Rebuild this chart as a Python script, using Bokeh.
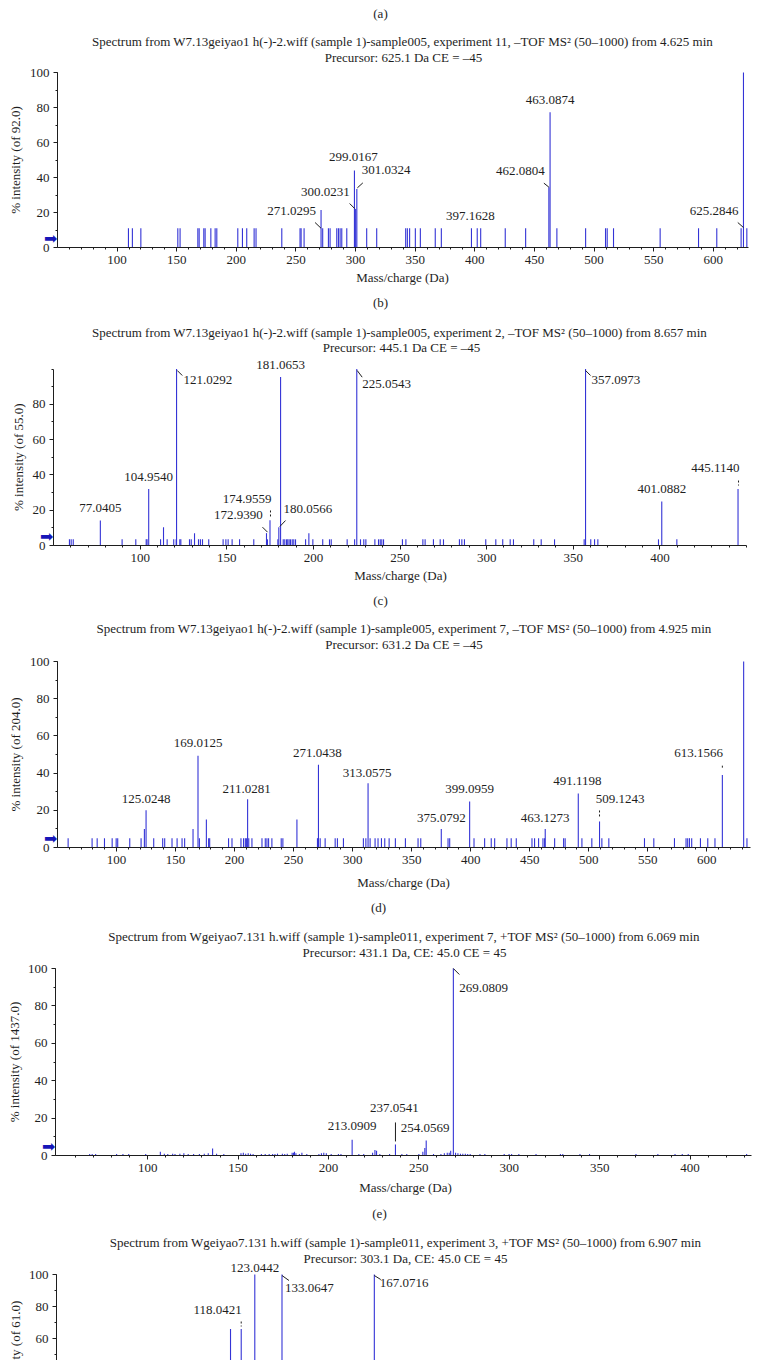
import math
from bokeh.plotting import figure
from bokeh.layouts import column
from bokeh.models import Label, FixedTicker, Range1d, ColumnDataSource
from bokeh.embed import file_html
from bokeh.resources import INLINE

SERIF = "Liberation Serif"
BAR = "#3434d6"
INK = "#1e1e1e"
ARROW = "#1616b8"
W = 758          # canvas width; the page template has no body margin, so page x = canvas x

# ------------------------------------------------------------------ (b)
b_title = "Spectrum from W7.13geiyao1 h(-)-2.wiff (sample 1)-sample005, experiment 11, \u2013TOF MS\u00b2 (50\u20131000) from 4.625 min"
b_prec = "Precursor: 625.1 Da CE = \u201345"
b_ylabel = "% intensity (of 92.0)"
b_mz = [109.5, 112.8, 119.9, 150.9, 152.8, 167.7, 168.8, 172.7, 173.8, 178.6,
        182.2, 183.6, 201.2, 205.1, 208.7, 214.9, 216.5, 238.1, 253.4, 254.3,
        256.8, 271.03, 272.4, 277.2, 278.6, 284.2, 285.6, 287.0, 288.4, 292.6,
        299.02, 300.02, 301.03, 309.3, 317.7, 342.0, 343.4, 345.3, 350.1, 354.3,
        366.8, 371.9, 397.16, 402.0, 404.9, 425.5, 442.6, 462.08, 463.09, 468.8,
        492.9, 509.6, 511.0, 516.3, 555.4, 587.6, 602.9, 623.3, 625.28, 628.1]
b_int = [11, 11, 11, 11, 11, 11, 11, 11, 11, 11,
         11, 11, 11, 11, 11, 11, 11, 11, 11, 11,
         11, 21.5, 11, 11, 11, 11, 11, 11, 11, 11,
         44, 22, 33.5, 11, 11, 11, 11, 11, 11, 11,
         11, 11, 11, 11, 11, 11, 11, 34.5, 77.3, 11,
         11, 11, 11, 11, 11, 11, 11, 11, 100, 11]
b_lab_text = ["299.0167", "301.0324", "300.0231", "271.0295", "397.1628", "462.0804", "463.0874", "625.2846"]
b_lab_mz = [299.02, 301.03, 300.02, 271.03, 397.16, 462.08, 463.09, 625.28]
b_lab_int = [44, 33.5, 22, 11, 11, 34.5, 77.3, 11]
b_xticks = [100, 150, 200, 250, 300, 350, 400, 450, 500, 550, 600]
b_yticks = [0, 20, 40, 60, 80, 100]

# ------------------------------------------------------------------ (c)
c_title = "Spectrum from W7.13geiyao1 h(-)-2.wiff (sample 1)-sample005, experiment 2, \u2013TOF MS\u00b2 (50\u20131000) from 8.657 min"
c_prec = "Precursor: 445.1 Da CE = \u201345"
c_ylabel = "% intensity (of 55.0)"
c_mz = [59.2, 60.2, 61.4, 77.04, 89.6, 97.5, 103.5, 104.0, 104.95, 111.8,
        113.5, 115.6, 119.4, 120.8, 121.03, 122.9, 123.5, 128.5, 129.5, 131.4,
        133.7, 134.8, 136.0, 139.6, 147.9, 149.5, 150.8, 153.1, 157.4, 165.6,
        172.94, 173.5, 174.96, 179.5, 180.06, 181.07, 182.6, 183.5, 184.5, 185.2,
        186.0, 186.8, 187.8, 188.7, 189.7, 195.5, 197.4, 199.7, 205.4, 209.3,
        210.3, 219.5, 223.8, 225.05, 227.2, 229.1, 230.3, 235.5, 237.6, 238.6,
        239.5, 240.5, 251.4, 253.4, 263.2, 264.5, 269.3, 273.2, 275.1, 284.3,
        285.7, 287.2, 299.5, 305.3, 309.3, 313.6, 315.5, 327.2, 331.5, 339.2,
        356.3, 357.1, 360.1, 362.3, 364.2, 399.2, 401.09, 409.8, 445.11]
c_int = [3.5, 3.5, 3.5, 14.2, 3.5, 3.5, 3.5, 3.5, 32, 3.5,
         10.4, 3.5, 3.5, 3.5, 100, 3.5, 3.5, 3.5, 3.5, 7,
         3.5, 3.5, 3.5, 3.5, 3.5, 3.5, 3.5, 3.5, 3.5, 3.5,
         7, 3.5, 14.3, 3.5, 10.4, 95.5, 3.5, 3.5, 3.5, 3.5,
         3.5, 3.5, 3.5, 3.5, 3.5, 3.5, 7, 3.5, 3.5, 3.5,
         3.5, 3.5, 3.5, 100, 3.5, 3.5, 3.5, 3.5, 3.5, 3.5,
         3.5, 3.5, 3.5, 3.5, 3.5, 3.5, 3.5, 3.5, 3.5, 3.5,
         3.5, 3.5, 3.5, 3.5, 3.5, 3.5, 3.5, 3.5, 3.5, 3.5,
         3.5, 100, 3.5, 3.5, 3.5, 3.5, 25, 3.5, 32]
c_lab_text = ["77.0405", "104.9540", "121.0292", "181.0653", "225.0543", "357.0973",
              "174.9559", "172.9390", "180.0566", "401.0882", "445.1140"]
c_lab_mz = [77.04, 104.95, 121.03, 181.07, 225.05, 357.1, 174.96, 172.94, 180.06, 401.09, 445.11]
c_lab_int = [14.2, 32, 100, 95.5, 100, 100, 14.3, 7, 10.4, 25, 32]
c_xticks = [100, 150, 200, 250, 300, 350, 400]
c_yticks = [0, 20, 40, 60, 80]

# ------------------------------------------------------------------ (d)
d_title = "Spectrum from W7.13geiyao1 h(-)-2.wiff (sample 1)-sample005, experiment 7, \u2013TOF MS\u00b2 (50\u20131000) from 4.925 min"
d_prec = "Precursor: 631.2 Da CE = \u201345"
d_ylabel = "% intensity (of 204.0)"
d_mz = [59.0, 79.3, 83.6, 89.8, 96.3, 99.7, 101.0, 111.2, 120.8, 123.6,
        125.02, 131.5, 139.1, 140.8, 147.0, 151.3, 155.5, 157.7, 164.8, 169.01,
        170.2, 176.1, 178.0, 178.9, 194.9, 197.8, 205.4, 207.6, 209.1, 210.0,
        211.03, 212.0, 214.7, 223.2, 226.0, 227.4, 228.8, 231.6, 239.5, 240.9,
        252.8, 270.2, 271.04, 272.5, 276.7, 285.2, 287.1, 292.2, 309.1, 311.2,
        313.06, 314.8, 319.0, 321.5, 324.4, 327.2, 330.9, 336.2, 344.7, 355.4,
        357.7, 375.08, 380.8, 382.2, 399.1, 402.8, 411.8, 417.4, 420.3, 430.7,
        434.3, 438.6, 451.9, 454.1, 457.5, 461.2, 462.6, 463.13, 471.1, 478.7,
        480.0, 491.12, 494.2, 502.6, 509.12, 511.1, 517.0, 547.2, 555.1, 572.6,
        582.4, 583.8, 585.3, 587.2, 594.6, 600.8, 606.9, 613.16, 631.2, 634.0]
d_int = [5, 5, 5, 5, 5, 5, 5, 5, 5, 10,
         20, 5, 5, 5, 5, 5, 5, 5, 10, 49.3,
         5, 15, 5, 5, 5, 5, 5, 5, 5, 5,
         26, 5, 5, 5, 5, 5, 5, 5, 5, 5,
         15, 5, 44.5, 5, 5, 5, 5, 5, 5, 5,
         34.5, 5, 5, 5, 5, 5, 5, 5, 5, 5,
         5, 10, 5, 5, 24.7, 5, 5, 5, 5, 5,
         5, 5, 5, 5, 5, 5, 5, 10, 5, 5,
         5, 29, 5, 5, 14, 5, 5, 5, 5, 5,
         5, 5, 5, 5, 5, 5, 5, 39, 100, 5]
d_lab_text = ["125.0248", "169.0125", "211.0281", "271.0438", "313.0575", "375.0792",
              "399.0959", "463.1273", "491.1198", "509.1243", "613.1566"]
d_lab_mz = [125.02, 169.01, 211.03, 271.04, 313.06, 375.08, 399.1, 463.13, 491.12, 509.12, 613.16]
d_lab_int = [20, 49.3, 26, 44.5, 34.5, 10, 24.7, 10, 29, 14, 39]
d_xticks = [100, 150, 200, 250, 300, 350, 400, 450, 500, 550, 600]
d_yticks = [0, 20, 40, 60, 80, 100]

# ------------------------------------------------------------------ (e)
e_title = "Spectrum from Wgeiyao7.131 h.wiff (sample 1)-sample011, experiment 7, +TOF MS\u00b2 (50\u20131000) from 6.069 min"
e_prec = "Precursor: 431.1 Da, CE: 45.0 CE = 45"
e_ylabel = "% intensity (of 1437.0)"
e_mz = [67.9, 69.3, 71.2, 82.8, 86.3, 89.5, 98.9, 107.0, 109.2, 111.1,
        113.8, 115.1, 117.8, 120.0, 122.4, 125.4, 128.6, 131.3, 133.5, 135.9,
        138.1, 142.1, 151.6, 152.9, 154.2, 155.6, 156.9, 158.3, 162.9, 165.0,
        167.2, 169.1, 170.4, 171.8, 174.5, 175.8, 177.2, 179.9, 180.7, 181.2,
        182.0, 183.9, 185.3, 188.0, 194.7, 196.1, 197.4, 198.8, 201.5, 205.5,
        206.9, 213.09, 216.8, 219.5, 224.4, 225.7, 226.6, 228.4, 233.8, 237.05,
        240.6, 243.3, 250.0, 252.2, 253.3, 254.06, 258.1, 262.2, 264.1, 265.7,
        266.8, 267.6, 269.08, 270.3, 271.6, 273.0, 274.3, 275.7, 277.0, 278.4,
        283.8, 286.5, 297.2, 299.9, 301.3, 305.3, 314.8, 328.3, 329.6, 339.1,
        344.4, 370.1, 382.2, 391.7, 395.7, 399.0, 431.3]
e_int = [0.8, 0.8, 0.8, 0.8, 0.8, 0.8, 0.8, 2.0, 1.0, 0.8,
         1.0, 0.8, 1.0, 1.2, 0.8, 0.8, 0.8, 1.0, 1.2, 3.7,
         1.0, 0.8, 1.2, 1.5, 1.0, 1.2, 1.0, 0.8, 0.8, 0.8,
         0.8, 0.8, 0.8, 1.0, 1.0, 0.8, 1.0, 1.5, 1.5, 2.0,
         1.2, 0.8, 1.5, 0.8, 0.8, 1.2, 1.5, 1.2, 0.8, 0.8,
         0.8, 8.4, 0.8, 0.8, 1.5, 3.0, 2.5, 0.8, 0.8, 5.9,
         0.8, 0.8, 0.8, 2.0, 4.0, 8.0, 0.8, 0.8, 1.2, 1.5,
         1.5, 2.5, 100, 1.5, 1.2, 1.0, 1.0, 1.0, 0.8, 0.8,
         0.8, 0.8, 0.8, 0.8, 0.8, 0.8, 0.8, 0.8, 0.8, 0.8,
         0.8, 0.8, 0.8, 0.8, 0.8, 0.8, 0.8]
e_lab_text = ["269.0809", "213.0909", "237.0541", "254.0569"]
e_lab_mz = [269.08, 213.09, 237.05, 254.06]
e_lab_int = [100, 8.4, 5.9, 8.0]
e_xticks = [100, 150, 200, 250, 300, 350, 400]
e_yticks = [0, 20, 40, 60, 80, 100]

# ------------------------------------------------------------------ (f)
f_title = "Spectrum from Wgeiyao7.131 h.wiff (sample 1)-sample011, experiment 3, +TOF MS\u00b2 (50\u20131000) from 6.907 min"
f_prec = "Precursor: 303.1 Da, CE: 45.0 CE = 45"
f_ylabel = "% intensity (of 61.0)"
f_mz = [114.1, 118.04, 123.04, 133.06, 167.07]
f_int = [66, 66, 100, 100, 100]
f_lab_text = ["123.0442", "133.0647", "167.0716", "118.0421"]
f_lab_mz = [123.04, 133.06, 167.07, 118.04]
f_lab_int = [100, 100, 100, 66]
f_yticks = [60, 80, 100]

THRESHOLD = 5  # level of the blue arrow marker (% intensity)

# ------------------------------------------------------------------ styles: label offsets (px) and leaders
b_style = dict(dx=[-1, 5, -6, -5, -1, -4, 0, -5], dy=[14, 19, 17.5, 17.75, 12, 16.6, 12, 17.75],
               align=["center", "left", "right", "right", "center", "right", "center", "right"],
               leaders=[(1, 0.5, 1, 6, 6, None), (2, -6, 5.5, -1, 0.5, None), (3, -6, 5.75, 0, 0, None),
                        (5, -5, 4, 0, 0, None), (7, -5.7, 5.75, 0, 0.75, None)])
c_style = dict(dx=[0, 0, 7, 0, 5.4, 6, 1.5, -3.7, 4.7, 0, 1.5],
               dy=[12, 12.5, -10.5, 12.4, -14.5, -10.5, 20.8, 18.6, 18.6, 12, 21.5],
               align=["center", "center", "left", "center", "left", "left", "right", "right", "left", "center", "right"],
               leaders=[(2, 0.7, -1.5, 5.7, -6.5, None), (4, 0.4, -1.5, 5.4, -8.2, None), (5, 0, -1.5, 5, -6.5, None),
                        (6, 0.5, 9.8, 0.5, 3.8, "2 2"), (7, -4, 6, 1, 1, None), (8, 1, 0.6, 6.7, 6.6, None),
                        (10, 0.5, 8.5, 0.5, 3.5, "2 2")])
d_style = dict(dx=[0, 0, -1, -1, -1, 0, 0, 0, -1, -3.7, 0.6],
               dy=[11.7, 13, 10.5, 12, 10.7, 11.4, 12.9, 11.4, 12.9, 22.9, 22.3],
               align=["center"] * 9 + ["left", "right"],
               leaders=[(9, 0, 11, 0, 4, "2 2"), (10, 0, 9.3, 0, 5.3, "2 2")])
e_style = dict(dx=[6, 0, -1, -1], dy=[-19, 13.3, 36, 13],
               align=["left", "center", "center", "center"],
               leaders=[(0, 0, 0, 6, -6, None), (2, 0, 22, 0, 3, None)])
f_style = dict(dx=[0, 3, 5.4, 0.6], dy=[6.5, -13, -8, 19.4],
               align=["center", "left", "left", "right"],
               leaders=[(1, 0, -1, 7, -6, None), (2, 0, -1, 6.4, -5, None), (3, 0, 7.4, 0, 2.4, "2 2")])

# page geometry of each panel: canvas top T, height H, plot left/right, y of 100 and of 0,
# and page positions of the texts around the plot
b_geo = dict(T=0, H=316, PL=57, PR=748, P100=72, P0=247, xr=(50, 629.5),
             t1=(402, 41), t2=(403, 57), xl=(402, 277), yl=(15, 159.5), cap=("(b)", 380, 302), top=("(a)", 380, 13))
c_geo = dict(T=316, H=296, PL=53, PR=746, P100=368.5, P0=545, xr=(50, 450),
             t1=(399, 332), t2=(401, 347), xl=(400, 575), yl=(18, 456.7), cap=("(c)", 380, 600), top=None)
d_geo = dict(T=612, H=308, PL=57, PR=750, P100=661, P0=847, xr=(50, 637),
             t1=(403.5, 628), t2=(403.5, 644), xl=(403, 882), yl=(15, 754), cap=("(d)", 378, 907), top=None)
e_geo = dict(T=920, H=307, PL=55, PR=751, P100=968, P0=1155, xr=(49, 434),
             t1=(403.5, 936), t2=(404, 952), xl=(405, 1187), yl=(14, 1061.5), cap=("(e)", 379, 1213), top=None)
f_geo = dict(T=1227, H=133, PL=56, PR=751, P100=1274, P0=1434, xr=(50, 306),
             t1=(405, 1242), t2=(405, 1258), xl=None, yl=(15, 1354), cap=None, top=None)


def make_panel(mz, inten, labs, lmz, lint, style, g, xticks, yticks, ylabel, title, prec, arrow=True):
    T, H, PL, PR, P100, P0, xr = g["T"], g["H"], g["PL"], g["PR"], g["P100"], g["P0"], g["xr"]
    ppx = (PR - PL) / (xr[1] - xr[0])
    ppy = (P0 - P100) / 100.0
    x_start = xr[0] - PL / ppx
    x_end = xr[1] + (W - PR) / ppx
    y_end = 100 + (P100 - T) / ppy
    y_start = 0 - (T + H - P0) / ppy

    def X(px):
        return x_start + px / ppx

    def Y(py):
        return y_end - (py - T) / ppy

    def lab(text, x, y, size="13px", align="center", angle=0.0, font=SERIF, color=INK):
        return Label(x=x, y=y, text=text, text_font=font, text_font_size=size, text_color=color,
                     text_align=align, text_baseline="middle", angle=angle)

    has_x = g["xl"] is not None
    p = figure(width=W, height=H, x_range=Range1d(x_start, x_end), y_range=Range1d(y_start, y_end),
               output_backend="svg", toolbar_location=None, title=None,
               min_border_left=0, min_border_right=0, min_border_top=0, min_border_bottom=0,
               x_axis_location="below" if has_x else None, y_axis_location="left")
    p.outline_line_color = None
    p.grid.visible = False
    p.background_fill_color = "white"
    p.border_fill_color = "white"

    src = ColumnDataSource(dict(mz=mz, inten=inten))
    p.segment(x0="mz", y0=0, x1="mz", y1="inten", source=src, line_color=BAR, line_width=1.1)

    for t, m, v, dx, dy, al in zip(labs, lmz, lint, style["dx"], style["dy"], style["align"]):
        p.add_layout(lab(t, m + dx / ppx, v + dy / ppy, align=al))
    for (i, x0, y0, x1, y1, dash) in style["leaders"]:
        m, v = lmz[i], lint[i]
        p.segment(x0=[m + x0 / ppx], y0=[v + y0 / ppy], x1=[m + x1 / ppx], y1=[v + y1 / ppy],
                  line_color=INK, line_width=1, line_dash=dash if dash else "solid")

    axes = [p.yaxis[0]] + ([p.xaxis[0]] if has_x else [])
    for ax in axes:
        ax.axis_line_color = INK
        ax.major_tick_line_color = INK
        ax.minor_tick_line_color = INK
        ax.major_tick_in = 0
        ax.major_tick_out = 4
        ax.minor_tick_in = 0
        ax.minor_tick_out = 2
        ax.major_label_text_font = SERIF
        ax.major_label_text_font_size = "13px"
        ax.major_label_text_color = INK
        ax.major_label_standoff = 4
    if has_x:
        p.xaxis.fixed_location = 0
        p.xaxis.bounds = xr
        p.xaxis.ticker = FixedTicker(ticks=xticks, minor_ticks=list(range(60, int(xr[1]) + 1, 10)))
        p.add_layout(lab("Mass/charge (Da)", X(g["xl"][0]), Y(g["xl"][1])))
    p.yaxis.fixed_location = xr[0]
    p.yaxis.bounds = (0, 100)
    p.yaxis.ticker = FixedTicker(ticks=yticks, minor_ticks=list(range(0, 101, 10)))
    p.add_layout(lab(ylabel, X(g["yl"][0]), Y(g["yl"][1]), angle=math.pi / 2))

    p.add_layout(lab(title, X(g["t1"][0]), Y(g["t1"][1]), size="13px"))
    p.add_layout(lab(prec, X(g["t2"][0]), Y(g["t2"][1]), size="13px"))
    for extra in (g["cap"], g["top"]):
        if extra:
            p.add_layout(lab(extra[0], X(extra[1]), Y(extra[2])))
    if arrow:
        p.add_layout(lab("\u27a1", X(PL), THRESHOLD, size="16px", align="right",
                         font="DejaVu Sans", color=ARROW))
    return p


pb = make_panel(b_mz, b_int, b_lab_text, b_lab_mz, b_lab_int, b_style, b_geo,
                b_xticks, b_yticks, b_ylabel, b_title, b_prec)
pc = make_panel(c_mz, c_int, c_lab_text, c_lab_mz, c_lab_int, c_style, c_geo,
                c_xticks, c_yticks, c_ylabel, c_title, c_prec)
pd_ = make_panel(d_mz, d_int, d_lab_text, d_lab_mz, d_lab_int, d_style, d_geo,
                 d_xticks, d_yticks, d_ylabel, d_title, d_prec)
pe = make_panel(e_mz, e_int, e_lab_text, e_lab_mz, e_lab_int, e_style, e_geo,
                e_xticks, e_yticks, e_ylabel, e_title, e_prec)
pf = make_panel(f_mz, f_int, f_lab_text, f_lab_mz, f_lab_int, f_style, f_geo,
                [], f_yticks, f_ylabel, f_title, f_prec, arrow=False)

layout = column(pb, pc, pd_, pe, pf, spacing=0)
open("out.html", "w").write(file_html(layout, INLINE))
